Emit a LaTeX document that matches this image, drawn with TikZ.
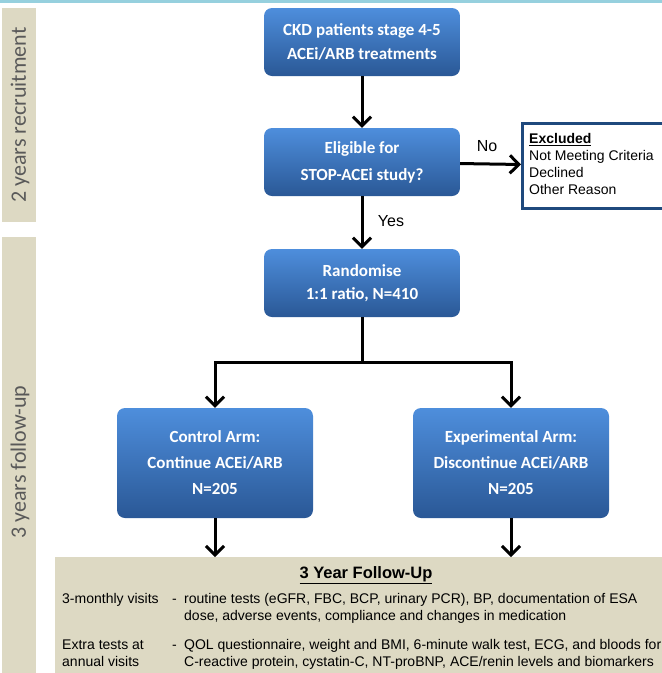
\documentclass[tikz,border=0pt]{standalone}
\usepackage{fontspec}
\setmainfont{Liberation Sans}
\newfontfamily\calibrifont{Carlito}
\usetikzlibrary{arrows.meta}
\definecolor{boxtop}{RGB}{78,142,220}
\definecolor{boxbot}{RGB}{42,88,150}
\definecolor{beigefill}{RGB}{221,217,195}
\definecolor{darkblue}{RGB}{31,73,125}
\definecolor{topline}{RGB}{150,208,222}
\definecolor{sidegray}{RGB}{89,89,89}
\tikzset{
  bluebox/.style={rounded corners=8pt, top color=boxtop, bottom color=boxbot,
    text=white, font=\calibrifont\bfseries\fontsize{17}{24}\selectfont,
    align=center, minimum width=196pt, inner sep=0pt},
  arr/.style={line width=3pt, -{Straight Barb[length=9pt,width=18pt,line width=3pt]}},
  conn/.style={line width=3pt},
  sidebar/.style={fill=beigefill, draw=none, inner sep=0pt, minimum width=34pt},
  sidetext/.style={rotate=90, text=sidegray, font=\calibrifont\fontsize{22}{22}\selectfont},
  futext/.style={anchor=base west, inner sep=0pt, font=\fontsize{14}{16}\selectfont},
}
\begin{document}
\begin{tikzpicture}[x=1pt,y=-1pt]
\useasboundingbox (0,0) rectangle (662,673);
\fill[topline] (0,0) rectangle (662,2.5);
% side bars
\node[sidebar, minimum height=214pt] (bar1) at (19,115) {};
\node[sidetext] (bar1t) at (20,115) {2 years recruitment};
\node[sidebar, minimum height=436pt] (bar2) at (19,455) {};
\node[sidetext] (bar2t) at (20,462) {3 years follow-up};
% main boxes
\node[bluebox, minimum height=68pt] (ckd) at (362,42) {CKD patients stage 4-5\\ACEi/ARB treatments};
\node[bluebox, minimum height=68pt, font=\calibrifont\bfseries\fontsize{17}{27}\selectfont] (elig) at (362,162) {Eligible for\\STOP-ACEi study?};
\node[bluebox, minimum height=68pt, font=\calibrifont\bfseries\fontsize{17}{23}\selectfont] (rand) at (362,283) {Randomise\\1:1 ratio, N=410};
\node[bluebox, minimum height=110pt, font=\calibrifont\bfseries\fontsize{17}{26}\selectfont] (ctrl) at (215,463) {Control Arm:\\Continue ACEi/ARB\\N=205};
\node[bluebox, minimum height=110pt, font=\calibrifont\bfseries\fontsize{17}{26}\selectfont] (expa) at (511,463) {Experimental Arm:\\Discontinue ACEi/ARB\\N=205};
% excluded box
\node[draw=darkblue, line width=2.5pt, fill=white, anchor=north west,
  minimum width=160pt, minimum height=85pt, inner sep=0pt] (excl) at (521,122) {};
\node[anchor=north west, align=left, inner sep=0pt, font=\fontsize{14}{17}\selectfont] (exclt) at (529,133)
  {\textbf{\underline{Excluded}}\\Not Meeting Criteria\\Declined\\Other Reason};
% follow-up box
\node[fill=beigefill, anchor=north west, minimum width=607pt, minimum height=116pt, inner sep=0pt] (fu) at (55,557) {};
\node[font=\bfseries\fontsize{16.5}{18}\selectfont, anchor=base] (futitle) at (366,578) {\underline{3 Year Follow-Up}};
\node[futext] (r1a) at (62,603) {3-monthly visits};
\node[futext] (r1d) at (172,603) {-};
\node[futext] (r1b) at (184,603) {routine tests (eGFR, FBC, BCP, urinary PCR), BP, documentation of ESA};
\node[futext] (r1c) at (184,620) {dose, adverse events, compliance and changes in medication};
\node[futext] (r2a) at (62,649) {Extra tests at};
\node[futext] (r2e) at (62,666) {annual visits};
\node[futext] (r2d) at (172,649) {-};
\node[futext] (r2b) at (184,649) {QOL questionnaire, weight and BMI, 6-minute walk test, ECG, and bloods for};
\node[futext] (r2c) at (184,666) {C-reactive protein, cystatin-C, NT-proBNP, ACE/renin levels and biomarkers};
% connectors
\draw[arr] (ckd) -- (elig);
\draw[arr] (elig) -- (excl);
\node[font=\fontsize{16}{18}\selectfont] (nolab) at (487,146) {No};
\draw[arr] (elig) -- (rand);
\node[font=\fontsize{16}{18}\selectfont] (yeslab) at (391,221) {Yes};
\coordinate (split) at (362,362);
\draw[conn] (rand.south) -- (split);
\draw[arr] (split) -| (ctrl.north);
\draw[arr] (split) -| (expa.north);
\draw[arr] (ctrl.south) -- (ctrl.south |- fu.north);
\draw[arr] (expa.south) -- (expa.south |- fu.north);
\end{tikzpicture}
\end{document}
